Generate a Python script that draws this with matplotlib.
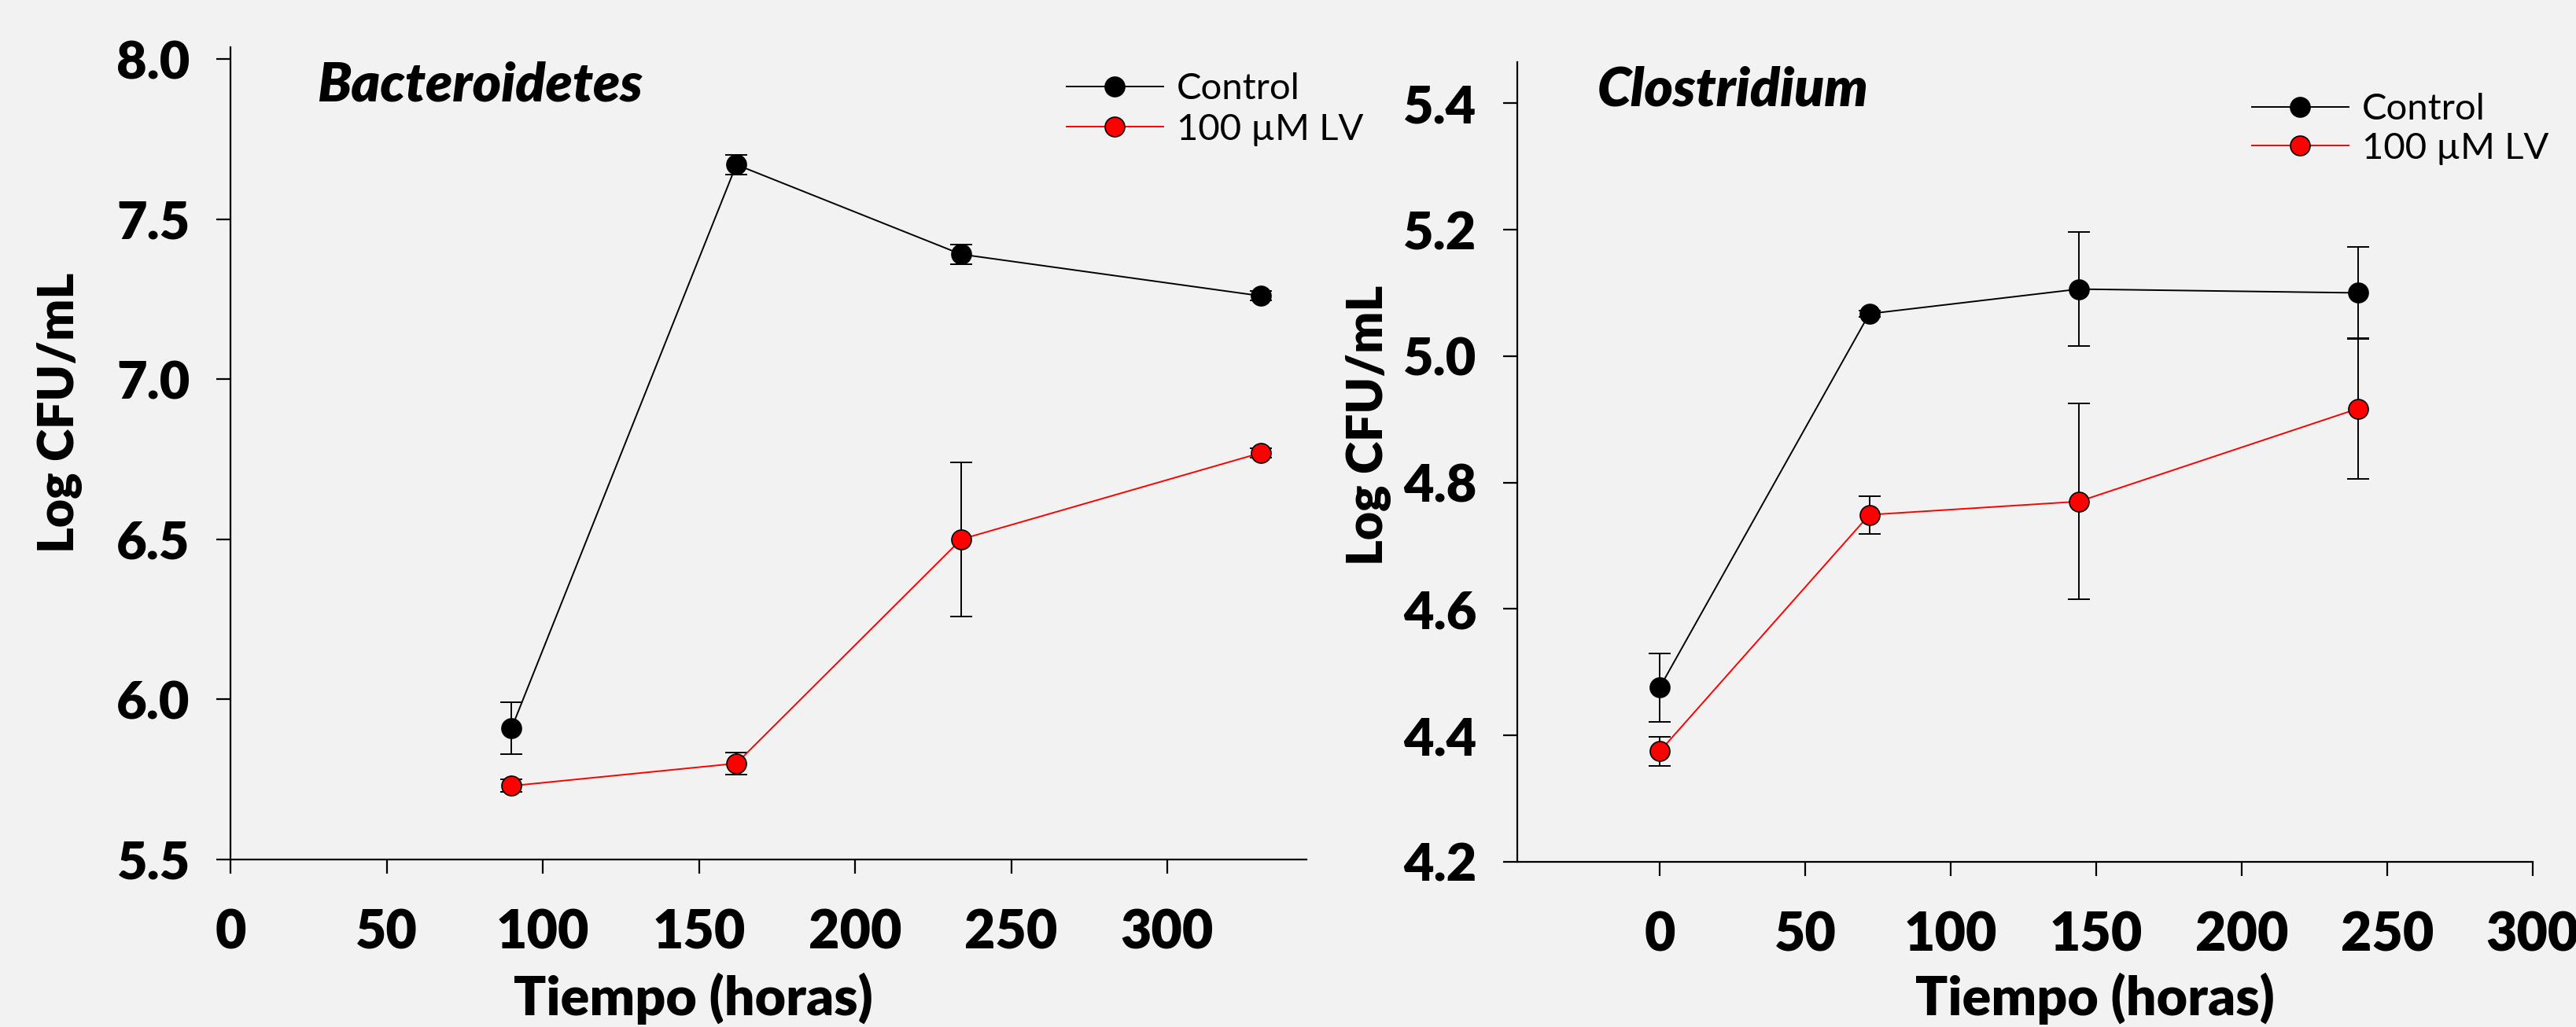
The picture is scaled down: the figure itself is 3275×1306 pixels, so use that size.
import matplotlib
matplotlib.use("Agg")
import matplotlib.pyplot as plt

plt.rcParams['font.family'] = ['Lato', 'DejaVu Sans']

# Bacteroidetes
bact_hours = [90, 162, 234, 330]
bact_control = [5.91, 7.67, 7.39, 7.26]
bact_control_err = [0.08, 0.03, 0.03, 0.015]
bact_lv = [5.73, 5.80, 6.50, 6.77]
bact_lv_err = [0.02, 0.035, 0.24, 0.015]

# Clostridium
clos_hours = [0, 72, 144, 240]
clos_control = [4.476, 5.067, 5.106, 5.100]
clos_control_err = [0.054, 0.005, 0.09, 0.073]
clos_lv = [4.375, 4.749, 4.770, 4.917]
clos_lv_err = [0.023, 0.03, 0.155, 0.111]

series_labels = ["Control", "100 µM LV"]
xtick_vals = [0, 50, 100, 150, 200, 250, 300]
bg = "#f2f2f2"
heavy = "heavy"

fig = plt.figure(figsize=(32.75, 13.06), dpi=100, facecolor=bg)
ax1 = fig.add_axes([0.0895, 0.1631, 0.4177, 0.791])
ax2 = fig.add_axes([0.589, 0.1608, 0.3942, 0.7787])


def draw_panel(ax, hours, ctrl, ctrl_err, lv, lv_err):
    ax.set_facecolor(bg)
    # error bars first, lines and markers on top
    for vals, errs in ((ctrl, ctrl_err), (lv, lv_err)):
        ax.errorbar(hours, vals, yerr=errs, fmt="none", ecolor="black",
                    elinewidth=1.4, capsize=10, capthick=1.4, zorder=2)
    ax.plot(hours, ctrl, color="black", lw=1.4, marker="o", ms=18,
            mfc="black", mec="black", mew=1.2, label=series_labels[0], zorder=3)
    ax.plot(hours, lv, color="red", lw=1.4, marker="o", ms=18,
            mfc="red", mec="black", mew=1.2, label=series_labels[1], zorder=3)
    for s in ["top", "right"]:
        ax.spines[s].set_visible(False)
    for s in ["left", "bottom"]:
        ax.spines[s].set_linewidth(1.6)
    ax.tick_params(axis="both", direction="out", length=13, width=1.6)
    ax.tick_params(axis="y", pad=24, labelsize=48)
    ax.tick_params(axis="x", pad=32, labelsize=49)
    ax.set_xticks(xtick_vals)
    ax.set_xticklabels([str(v) for v in xtick_vals], fontweight=heavy)
    ax.set_xlabel("Tiempo (horas)", fontsize=49, fontweight=heavy, va="center")
    ax.set_ylabel("Log CFU/mL", fontsize=45, fontweight=heavy, va="center")


draw_panel(ax1, bact_hours, bact_control, bact_control_err, bact_lv, bact_lv_err)
ax1.set_xlim(0, 344.6)
ax1.set_ylim(5.5, 8.037)
bact_yticks = [5.5, 6.0, 6.5, 7.0, 7.5, 8.0]
ax1.set_yticks(bact_yticks)
ax1.set_yticklabels([f"{v:.1f}" for v in bact_yticks], fontweight=heavy)
ax1.xaxis.set_label_coords(0.43, -0.171)
ax1.yaxis.set_label_coords(-0.159, 0.55)
ax1.text(0.080, 0.953, "Bacteroidetes", transform=ax1.transAxes, fontsize=50,
         fontweight=heavy, fontstyle="italic", va="center", ha="left")
ax1.legend(loc="center left", bbox_to_anchor=(0.777, 0.9235), frameon=False,
           fontsize=34, handlelength=2.6, handletextpad=0.36, labelspacing=0.2,
           borderpad=0, borderaxespad=0)

draw_panel(ax2, clos_hours, clos_control, clos_control_err, clos_lv, clos_lv_err)
ax2.set_xlim(-49, 300)
ax2.set_ylim(4.2, 5.465)
clos_yticks = [4.2, 4.4, 4.6, 4.8, 5.0, 5.2, 5.4]
ax2.set_yticks(clos_yticks)
ax2.set_yticklabels([f"{v:.1f}" for v in clos_yticks], fontweight=heavy)
ax2.xaxis.set_label_coords(0.569, -0.171)
ax2.yaxis.set_label_coords(-0.146, 0.546)
ax2.text(0.079, 0.965, "Clostridium", transform=ax2.transAxes, fontsize=50,
         fontweight=heavy, fontstyle="italic", va="center", ha="left")
ax2.legend(loc="center left", bbox_to_anchor=(0.7235, 0.9164), frameon=False,
           fontsize=34, handlelength=2.6, handletextpad=0.36, labelspacing=0.15,
           borderpad=0, borderaxespad=0)

fig.savefig("out.png", dpi=100, facecolor=bg)
